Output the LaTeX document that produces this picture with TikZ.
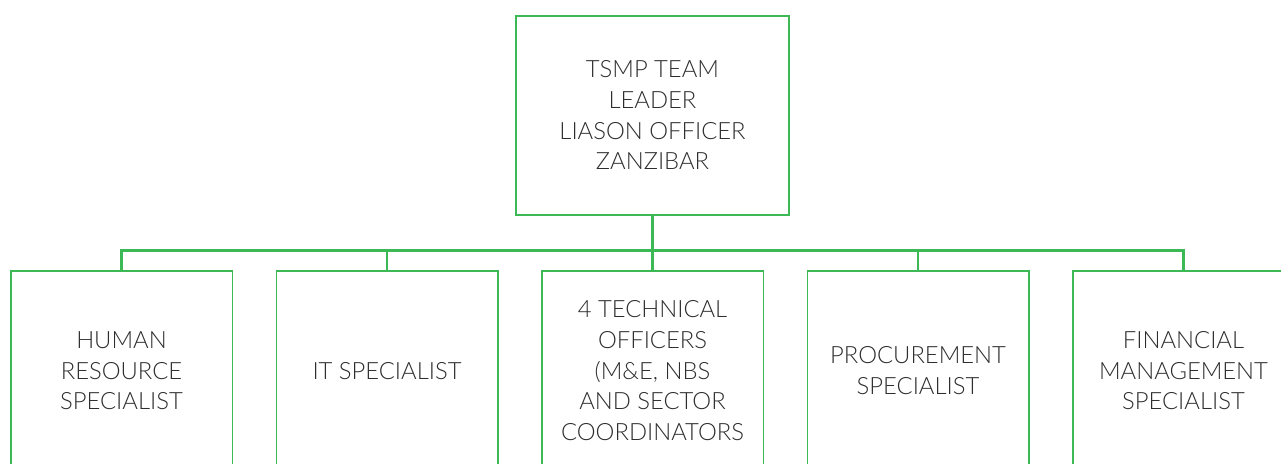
\documentclass[tikz,border=0pt]{standalone}
\usepackage{fontspec}
\setmainfont{Lato Light}
\definecolor{grn}{RGB}{60,185,85}
\definecolor{txt}{RGB}{45,45,45}
\begin{document}
\begin{tikzpicture}[x=1pt,y=-1pt,
  box/.style={draw=grn, line width=1.5pt, minimum width=221.5pt, minimum height=200pt,
    inner sep=0pt, align=center, text=txt, font=\fontsize{23.8}{30.8}\selectfont, anchor=north},
  link/.style={draw=grn, line width=2.8pt}]
\useasboundingbox (0,0) rectangle (1281,463);
\clip (0,0) rectangle (1281,463);
\fill[white] (0,0) rectangle (1281,463);
\node[box, minimum width=273pt, minimum height=199pt] (top) at (652.5,15) {TSMP TEAM\\LEADER\\LIASON OFFICER\\ZANZIBAR};
\node[box] (hr) at (121.5,270) {HUMAN\\RESOURCE\\SPECIALIST};
\node[box] (it) at (387,270) {IT SPECIALIST};
\node[box] (to) at (652.5,270) {4 TECHNICAL\\OFFICERS\\(M\&E, NBS\\AND SECTOR\\COORDINATORS};
\node[box] (pr) at (918,270) {PROCUREMENT\\SPECIALIST};
\node[box] (fm) at (1183.5,270) {FINANCIAL\\MANAGEMENT\\SPECIALIST};
\coordinate (j) at (652.5,250.5);
\draw[link] (top.south) -- (j);
\draw[link] (hr.north) |- (j) -| (fm.north);
\draw[link] (it.north) -- (it.north |- j);
\draw[link] (to.north) -- (j);
\draw[link] (pr.north) -- (pr.north |- j);
\end{tikzpicture}
\end{document}
